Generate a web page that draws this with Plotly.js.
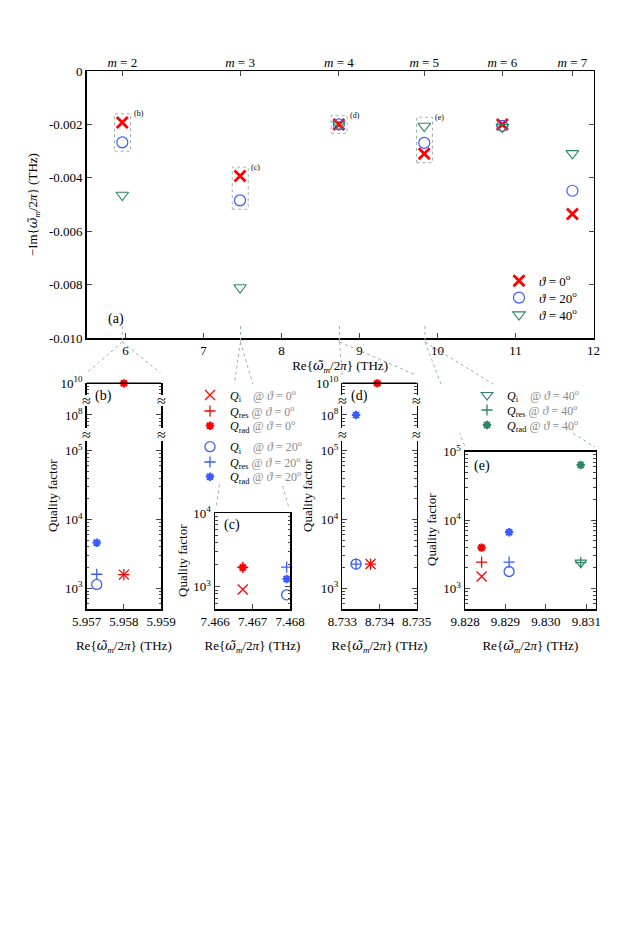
<!DOCTYPE html>
<html><head><meta charset="utf-8">
<script src="https://cdn.plot.ly/plotly-3.0.1.min.js"></script>
<style>html,body{margin:0;padding:0;background:#fff}</style>
</head><body><div id="chart" style="width:629px;height:945px"></div>
<script>
// ---------------- DATA ----------------
// main panel (a)
const modeLabels = ['<i>m</i> = 2','<i>m</i> = 3','<i>m</i> = 4','<i>m</i> = 5','<i>m</i> = 6','<i>m</i> = 7'];
const reMain = [5.958, 7.467, 8.734, 9.829, 10.83, 11.728];
const imT0  = [-0.00193, -0.00393, -0.00200, -0.00310, -0.00200, -0.00535];
const imT20 = [-0.00267, -0.00484, -0.00200, -0.00269, -0.00205, -0.00448];
const imT40 = [-0.00464, -0.00810, -0.00200, -0.00206, -0.00210, -0.00308];
const thetaNames = ['<i>ϑ</i> = 0<sup>o</sup>','<i>ϑ</i> = 20<sup>o</sup>','<i>ϑ</i> = 40<sup>o</sup>'];
const boxedModes = [0, 1, 2, 3];          // modes zoomed in panels (b)-(e)
const boxedSeriesCount = [2, 2, 3, 3];    // how many theta series inside each box
const panelTags = ['(b)','(c)','(d)','(e)'];

// zoom panels (b),(c),(d),(e)  (index 0..3)
const reT0    = [5.95800, 7.46674, 8.73376, 9.82841];
const reRadT0 = [5.95800, 7.46674, 8.73394, 9.82841];
const qiT0    = [1580, 920, 2250, 1496];
const qresT0  = [1580, 1840, 2250, 2430];
const qradT0  = [1e10, 1840, 1e10, 3960];
const reT20   = [5.95727, 7.46791, 8.73337, 9.82909];
const qiT20   = [1140, 780, 2250, 1770];
const qresT20 = [1600, 1860, 2250, 2430];
const qradT20 = [4600, 1280, 1e8, 6650];
const reT40   = [null, null, null, 9.83086];
const qiT40   = [null, null, null, 2390];
const qresT40 = [null, null, null, 2390];
const qradT40 = [null, null, null, 64000];

// ---------------- STYLE ----------------
const FONT = 'Liberation Serif';
const RED = '#ff0000', BLUE = '#3a5cff', GREEN = '#2e8466';
const GRID = '#9fb0b0';
const W = 629, H = 945;
const px = v => v / W, py = v => 1 - v / H;
const gray = s => '<span style="color:#8a8a8a">' + s + '</span>';
const sp = n => '\u00a0'.repeat(n);
const OMT = '<span style="font-family:DejaVu Serif;font-style:italic">ω̃</span>';

const traces = [];
const legends = {};
let legendCount = 0;
function newLegend(x0, yc, size) {
  legendCount++;
  const id = legendCount === 1 ? 'legend' : 'legend' + legendCount;
  legends[id] = {x: px(x0), y: py(yc), xanchor: 'left', yanchor: 'middle', bgcolor: 'rgba(0,0,0,0)',
    font: {size: size, family: FONT}, itemwidth: 30, borderwidth: 0};
  return id;
}

// main panel traces
const mainStyles = [
  {y: imT0, sym: 'x-thin-open', color: RED, size: 11, lw: 2.8},
  {y: imT20, sym: 'circle-open', color: BLUE, size: 11, lw: 1.2},
  {y: imT40, sym: 'triangle-down-open', color: GREEN, size: 11, lw: 1.1}
];
const mainLegendRows = [280.7, 297.7, 314.7];
mainStyles.forEach((s, k) => {
  traces.push({
    type: 'scatter', mode: 'markers', x: reMain, y: s.y, xaxis: 'x', yaxis: 'y',
    name: thetaNames[k], legend: newLegend(499, mainLegendRows[k], 13), cliponaxis: false,
    marker: {symbol: s.sym, size: s.size, color: s.color, line: {color: s.color, width: s.lw}}
  });
});
// empty trace so the top (mode number) axis is drawn
traces.push({type: 'scatter', mode: 'markers', x: [], y: [], xaxis: 'x2', yaxis: 'y', showlegend: false, hoverinfo: 'skip'});

// panels config
const panels = [
  {x: 'x3', xd: [86.7, 161], xr: [5.957, 5.959], xt: [5.957, 5.958, 5.959], xtt: ['5.957','5.958','5.959'],
   segs: [{y: 'y3', p: [441, 609], r: [2.699, 5.141], t: [1e3, 1e4, 1e5]},
          {y: 'y4', p: [406, 428], r: [7.81, 8.131], t: [1e8]},
          {y: 'y5', p: [383.3, 395], r: [9.829, 10.0005], t: [1e10]}],
   tag: [104, 395.5], qt: [53, 496]},
  {x: 'x4', xd: [215, 290], xr: [7.466, 7.468], xt: [7.466, 7.467, 7.468], xtt: ['7.466','7.467','7.468'],
   segs: [{y: 'y6', p: [513.3, 609], r: [2.699, 4.0005], t: [1e3, 1e4]}],
   tag: [232, 525], qt: [182, 561]},
  {x: 'x5', xd: [342.3, 416.7], xr: [8.733, 8.735], xt: [8.733, 8.734, 8.735], xtt: ['8.733','8.734','8.735'],
   segs: [{y: 'y7', p: [441, 609], r: [2.699, 5.141], t: [1e3, 1e4, 1e5]},
          {y: 'y8', p: [406, 428], r: [7.81, 8.131], t: [1e8]},
          {y: 'y9', p: [383.3, 395], r: [9.829, 10.0005], t: [1e10]}],
   tag: [359.5, 395.5], qt: [308, 496]},
  {x: 'x6', xd: [465, 595.7], xr: [9.828, 9.83123], xt: [9.828, 9.829, 9.830, 9.831], xtt: ['9.828','9.829','9.830','9.831'],
   segs: [{y: 'y10', p: [451.7, 609], r: [2.699, 5.0005], t: [1e3, 1e4, 1e5]}],
   tag: [482, 466], qt: [431, 530]}
];

const qSeries = [
  {re: reT0, q: qiT0, sym: 'x-thin-open', color: RED, size: 10, lw: 1.3, name: '<i>Q</i><sub>i</sub>' + sp(4), th: 0},
  {re: reT0, q: qresT0, sym: 'cross-thin-open', color: RED, size: 8, lw: 1.3, name: '<i>Q</i><sub>res</sub>' + sp(1), th: 0},
  {re: reRadT0, q: qradT0, sym: 'asterisk-open', color: RED, size: 7, lw: 2.2, name: '<i>Q</i><sub>rad</sub>' + sp(1), th: 0},
  {re: reT20, q: qiT20, sym: 'circle-open', color: BLUE, size: 10, lw: 1.3, name: '<i>Q</i><sub>i</sub>' + sp(4), th: 1},
  {re: reT20, q: qresT20, sym: 'cross-thin-open', color: BLUE, size: 8, lw: 1.3, name: '<i>Q</i><sub>res</sub>' + sp(1), th: 1},
  {re: reT20, q: qradT20, sym: 'asterisk-open', color: BLUE, size: 7, lw: 2.2, name: '<i>Q</i><sub>rad</sub>' + sp(1), th: 1},
  {re: reT40, q: qiT40, sym: 'triangle-down-open', color: GREEN, size: 10, lw: 1.2, name: '<i>Q</i><sub>i</sub>' + sp(4), th: 2},
  {re: reT40, q: qresT40, sym: 'cross-thin-open', color: GREEN, size: 8, lw: 1.3, name: '<i>Q</i><sub>res</sub>' + sp(1), th: 2},
  {re: reT40, q: qradT40, sym: 'asterisk-open', color: GREEN, size: 7, lw: 2.2, name: '<i>Q</i><sub>rad</sub>' + sp(1), th: 2}
];
const thetaLegend = ['@ <i>ϑ</i> = 0<sup>o</sup>', '@ <i>ϑ</i> = 20<sup>o</sup>', '@ <i>ϑ</i> = 40<sup>o</sup>'];
const qLegendPos = [[190, 395], [190, 411], [190, 425.7], [190, 446.7], [190, 462], [190, 476.7],
                    [467, 395], [467, 410], [467, 425]];

qSeries.forEach((s, si) => {
  let first = true;
  const lg = newLegend(qLegendPos[si][0], qLegendPos[si][1], 12);
  panels.forEach((p, i) => {
    if (s.q[i] == null) return;
    const lq = Math.log10(s.q[i]);
    const seg = p.segs.find(g => lq >= g.r[0] - 0.02 && lq <= g.r[1] + 0.02) || p.segs[0];
    traces.push({
      type: 'scatter', mode: 'markers', x: [s.re[i]], y: [s.q[i]], xaxis: p.x, yaxis: seg.y,
      name: s.name + gray(thetaLegend[s.th]), legend: lg,
      showlegend: first, cliponaxis: false,
      marker: {symbol: s.sym, size: s.size, color: s.color, line: {color: s.color, width: s.lw}}
    });
    first = false;
  });
});
// empty traces so every axis segment is drawn
panels.forEach(p => p.segs.forEach(g => traces.push({type: 'scatter', mode: 'markers', x: [], y: [],
  xaxis: p.x, yaxis: g.y, showlegend: false, hoverinfo: 'skip'})));

// ---------------- LAYOUT ----------------
const reTitle = 'Re{' + OMT + '<sub><i>m</i></sub>/2<i>π</i>} (THz)';
const layout = Object.assign({
  width: W, height: H, margin: {l: 0, r: 0, t: 0, b: 0},
  paper_bgcolor: '#fff', plot_bgcolor: 'rgba(0,0,0,0)',
  font: {family: FONT, size: 13, color: '#000'},
  showlegend: true,
  xaxis: {domain: [px(86.6), px(593.6)], range: [5.5, 12], anchor: 'y',
    tickvals: [6, 7, 8, 9, 10, 11, 12], ticks: 'inside', ticklen: 5, tickwidth: 1,
    showline: true, linewidth: 1.5, linecolor: '#000', mirror: true,
    showgrid: false, zeroline: false, automargin: false,
    title: {text: reTitle, standoff: 2, font: {size: 13}}},
  xaxis2: {overlaying: 'x', side: 'top', anchor: 'y', range: [5.5, 12],
    tickvals: reMain, ticktext: modeLabels, ticks: 'inside', ticklen: 5,
    showline: false, showgrid: false, zeroline: false, automargin: false},
  yaxis: {domain: [py(338.3), py(71)], range: [-0.010, 0], anchor: 'x',
    tickvals: [0, -0.002, -0.004, -0.006, -0.008, -0.010],
    ticktext: ['0', '-0.002', '-0.004', '-0.006', '-0.008', '-0.010'],
    ticks: 'inside', ticklen: 5, showline: true, linewidth: 1.5, linecolor: '#000', mirror: 'ticks',
    showgrid: false, zeroline: false, automargin: false,
    title: {text: '−Im{' + OMT + '<sub><i>m</i></sub>/2<i>π</i>} (THz)', standoff: 8, font: {size: 13}}},
  shapes: [], annotations: []
}, legends);

function minorVals(r) {
  const out = [];
  for (let e = Math.floor(r[0]) - 1; e <= Math.ceil(r[1]); e++)
    for (let d = 2; d <= 9; d++) out.push(d * Math.pow(10, e));
  return out;
}
const sup = v => '10<sup>' + Math.round(Math.log10(v)) + '</sup>';

// connector lines (decorative, drawn first so white masks cover them)
const conn = [
  [122.3, [[86.7, 373], [160.5, 373]]],
  [240.5, [[216, 508], [289, 508]]],
  [339.5, [[342.3, 375], [416, 375]]],
  [425, [[465, 447], [595, 447]]]
];
conn.forEach(c => {
  layout.shapes.push({type: 'line', xref: 'paper', yref: 'paper', x0: px(c[0]), x1: px(c[0]),
    y0: py(326), y1: py(342), line: {color: GRID, width: 1, dash: 'dot'}});
  c[1].forEach(e => layout.shapes.push({type: 'line', xref: 'paper', yref: 'paper',
    x0: px(c[0]), y0: py(342), x1: px(e[0]), y1: py(e[1]), line: {color: GRID, width: 1, dash: 'dot'}}));
});
// white areas behind the Q legends
[[205, 384, 302, 484], [428, 384, 600, 433]].forEach(r => layout.shapes.push({type: 'rect', xref: 'paper', yref: 'paper',
  x0: px(r[0]), x1: px(r[2]), y0: py(r[3]), y1: py(r[1]), fillcolor: '#fff', line: {width: 0}}));

panels.forEach((p, pi) => {
  const xk = 'xaxis' + p.x.slice(1);
  const broken = p.segs.length > 1;
  const lower = p.segs[0];
  layout[xk] = {domain: [px(p.xd[0]), px(p.xd[1])], range: p.xr, anchor: lower.y,
    tickvals: p.xt, ticktext: p.xtt, ticks: 'inside', ticklen: 5,
    showline: true, linewidth: 1.5, linecolor: '#000', mirror: !broken,
    showgrid: false, zeroline: false, automargin: false,
    title: {text: reTitle, standoff: 13, font: {size: 13}}};
  p.segs.forEach(g => {
    const yk = 'yaxis' + g.y.slice(1);
    layout[yk] = {domain: [py(g.p[1]), py(g.p[0])], type: 'log', range: g.r, anchor: p.x,
      tickvals: g.t, ticktext: g.t.map(sup), ticks: 'inside', ticklen: 5,
      minor: {tickmode: 'array', tickvals: minorVals(g.r), ticks: 'inside', ticklen: 2.5},
      showline: true, linewidth: 1.5, linecolor: '#000', mirror: 'ticks',
      showgrid: false, zeroline: false, automargin: false};
  });
  if (broken) {
    const top = p.segs[p.segs.length - 1];
    layout.shapes.push({type: 'line', xref: p.x + ' domain', yref: top.y + ' domain',
      x0: 0, x1: 1, y0: 1, y1: 1, line: {color: '#000', width: 1.5}});
    for (let k = 0; k < p.segs.length - 1; k++) {
      const yc = (p.segs[k].p[0] + p.segs[k + 1].p[1]) / 2;
      [p.xd[0], p.xd[1]].forEach(xx => layout.annotations.push({
        xref: 'paper', yref: 'paper', x: px(xx), y: py(yc), text: '≈', showarrow: false,
        font: {size: 16}, xanchor: 'center', yanchor: 'middle'}));
    }
  }
  layout.annotations.push({xref: 'paper', yref: 'paper', x: px(p.tag[0]), y: py(p.tag[1]),
    text: panelTags[pi], showarrow: false, font: {size: 14}, xanchor: 'center', yanchor: 'middle'});
  layout.annotations.push({xref: 'paper', yref: 'paper', x: px(p.qt[0]), y: py(p.qt[1]),
    text: 'Quality factor', textangle: -90, showarrow: false, font: {size: 13}, xanchor: 'center', yanchor: 'middle'});
});

// panel (a) label
layout.annotations.push({xref: 'paper', yref: 'paper', x: px(106), y: py(319), text: '(a)',
  showarrow: false, font: {size: 14}});

// dashed boxes around zoomed modes in (a)
const allIm = [imT0, imT20, imT40];
boxedModes.forEach((mi, b) => {
  const vals = allIm.slice(0, boxedSeriesCount[b]).map(a => a[mi]);
  const top = Math.max(...vals) + 0.00033, bot = Math.min(...vals) - 0.00033;
  const x0 = reMain[mi] - 0.1, x1 = reMain[mi] + 0.105;
  layout.shapes.push({type: 'rect', xref: 'x', yref: 'y', x0: x0, x1: x1, y0: bot, y1: top,
    line: {color: GRID, width: 1, dash: 'dot'}});
  layout.annotations.push({xref: 'x', yref: 'y', x: x1, y: top, text: panelTags[b], showarrow: false,
    font: {size: 8}, xanchor: 'left', yanchor: 'middle', xshift: 1});
});

Plotly.newPlot('chart', traces, layout, {staticPlot: true, displayModeBar: false});
</script></body></html>
